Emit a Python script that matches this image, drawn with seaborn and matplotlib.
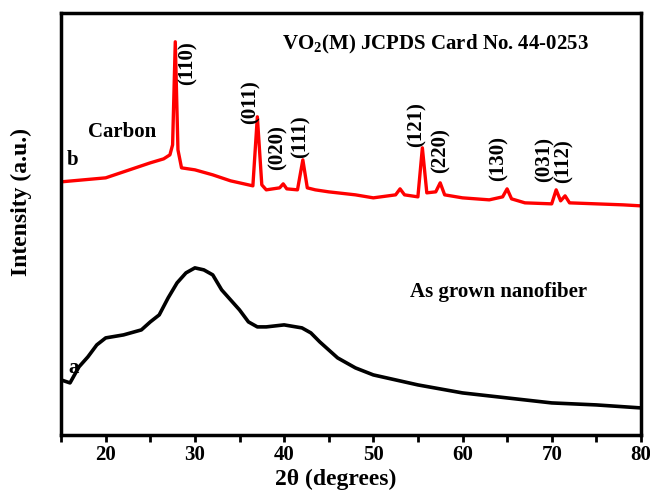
import numpy as np
import pandas as pd
import matplotlib
matplotlib.use("Agg")
import matplotlib.pyplot as plt
import seaborn as sns

# XRD pattern (intensity in arbitrary units)
two_theta_b = [15, 20, 22, 25, 26.5, 27.2, 27.5, 27.8, 28.1, 28.5, 30, 32, 34, 35, 36.5,
               37.0, 37.5, 38, 39.5, 39.9, 40.3, 41.5, 42.1, 42.6, 43.5, 45, 48, 50,
               52.5, 53, 53.5, 55, 55.5, 56, 57, 57.5, 58, 60, 63, 64.5, 65, 65.5, 67,
               70, 70.5, 71, 71.5, 72, 75, 78, 80]
carbon_b = [253, 257, 263, 272, 276, 280, 290, 393, 285, 267, 265, 260, 254, 252, 249,
            318, 250, 245, 247, 251, 246, 245, 275, 247, 245, 243, 240, 237,
            240, 246, 240, 238, 287, 242, 243, 252, 240, 237, 235, 238, 246, 236, 232,
            231, 245, 234, 239, 232, 231, 230, 229]

two_theta_a = [15, 16, 17, 18, 19, 20, 22, 24, 25, 26, 27, 28, 29, 30, 31, 32, 33, 34,
               35, 36, 37, 38, 40, 42, 43, 44, 45, 46, 48, 50, 55, 60, 65, 70, 75, 80]
nanofiber_a = [55, 52, 68, 78, 90, 97, 100, 105, 113, 120, 137, 152, 162, 167, 165, 160,
               145, 135, 125, 113, 108, 108, 110, 107, 102, 93, 85, 77, 67, 60, 50, 42,
               37, 32, 30, 27]

hkl_labels = ["(110)", "(011)", "(020)", "(111)", "(121)", "(220)", "(130)", "(031)", "(112)"]
hkl_x = [29.2, 36.3, 39.3, 41.9, 54.9, 57.6, 64.1, 69.15, 71.35]
hkl_y = [372, 333, 287, 298, 310, 284, 276, 275, 274]

sns.set_style("ticks", {"axes.edgecolor": "black", "text.color": "black",
                        "axes.labelcolor": "black", "xtick.color": "black",
                        "ytick.color": "black"})
plt.rcParams["font.family"] = ["Liberation Serif", "DejaVu Serif"]
plt.rcParams["font.weight"] = "bold"
plt.rcParams["mathtext.fontset"] = "custom"
plt.rcParams["mathtext.rm"] = "Liberation Serif:bold"
plt.rcParams["mathtext.bf"] = "Liberation Serif:bold"

df_a = pd.DataFrame({"x": two_theta_a, "y": nanofiber_a})
df_b = pd.DataFrame({"x": two_theta_b, "y": carbon_b})

fig = plt.figure(figsize=(6.5, 4.92), dpi=100)
ax = fig.add_axes([0.094, 0.116, 0.892, 0.858])

sns.lineplot(data=df_a, x="x", y="y", color="black", lw=2.6, ax=ax)
sns.lineplot(data=df_b, x="x", y="y", color="red", lw=2.4, ax=ax)

for lab, x, y in zip(hkl_labels, hkl_x, hkl_y):
    ax.text(x, y, lab, rotation=90, ha="center", va="center", fontsize=15,
            fontweight="bold", color="black")

ax.text(57.0, 390, r"VO$_\mathrm{2}$(M) JCPDS Card No. 44-0253", ha="center", va="center",
        fontsize=15, fontweight="bold", color="black")
ax.text(18.0, 303, "Carbon", ha="left", va="center", fontsize=15, fontweight="bold", color="black")
ax.text(15.6, 275, "b", ha="left", va="center", fontsize=15, fontweight="bold", color="black")
ax.text(15.8, 67, "a", ha="left", va="center", fontsize=15, fontweight="bold", color="black")
ax.text(54.1, 143, "As grown nanofiber", ha="left", va="center", fontsize=15,
        fontweight="bold", color="black")

ax.set_xlim(15, 80)
ax.set_ylim(0, 422)
ax.set_xticks([20, 30, 40, 50, 60, 70, 80])
ax.set_xticks([15, 25, 35, 45, 55, 65, 75], minor=True)
ax.set_yticks([])
ax.tick_params(axis="x", which="both", direction="out", length=5, width=2, labelsize=15,
               pad=2, color="black", labelcolor="black")
for lab in ax.get_xticklabels():
    lab.set_fontweight("bold")
for s in ax.spines.values():
    s.set_linewidth(2.5)
    s.set_color("black")
    s.set_visible(True)

ax.set_xlabel("2θ (degrees)", fontsize=17, fontweight="bold", color="black")
ax.set_ylabel("Intensity (a.u.)", fontsize=17, fontweight="bold", color="black")
ax.xaxis.set_label_coords(0.474, -0.08)
ax.yaxis.set_label_coords(-0.05, 0.552)

fig.savefig("out.png", dpi=100)
